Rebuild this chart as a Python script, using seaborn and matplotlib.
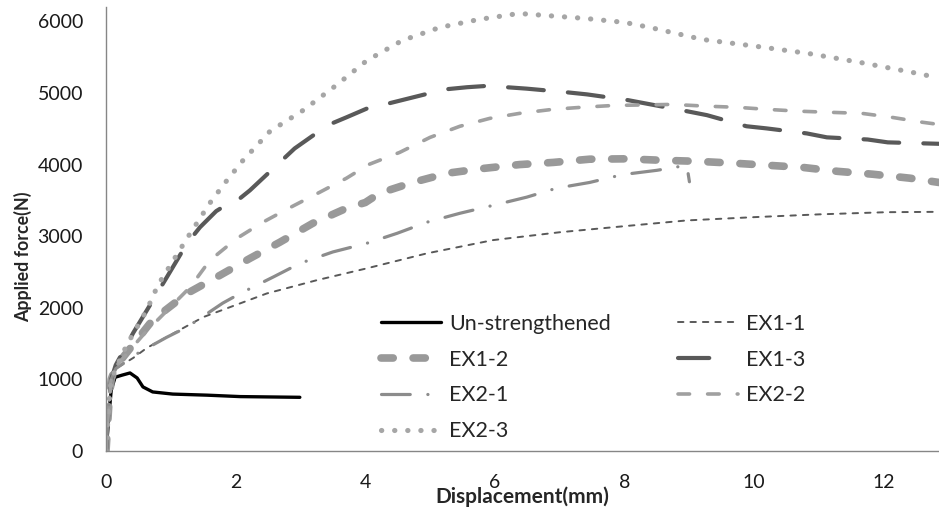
import matplotlib
matplotlib.use("Agg")
import matplotlib.pyplot as plt
import seaborn as sns
import pandas as pd

# Load-displacement curves (displacement in mm, force in N)
unstr_x = [0.0, 0.04, 0.08, 0.14, 0.25, 0.37, 0.48, 0.57, 0.72, 1.03, 1.56, 2.07, 2.99]
unstr_y = [0, 450, 850, 1030, 1060, 1090, 1020, 895, 825, 795, 780, 760, 750]

ex11_x = [0.0, 0.04, 0.08, 0.15, 0.42, 0.63, 1.5, 2.48, 3.25, 4.02, 4.95, 5.97, 7.0, 8.0, 8.96, 9.98, 11.01, 12.04, 12.85]
ex11_y = [0, 600, 1000, 1150, 1300, 1440, 1870, 2200, 2385, 2550, 2760, 2945, 3055, 3140, 3220, 3265, 3305, 3335, 3340]

ex12_x = [0.0, 0.04, 0.08, 0.15, 0.72, 1.25, 1.76, 2.22, 2.68, 3.19, 3.71, 4.0, 4.22, 4.73, 5.27, 5.81, 6.38, 6.9, 7.46, 8.0, 8.57, 9.13, 9.67, 10.21, 10.75, 11.29, 11.83, 12.4, 12.85]
ex12_y = [0, 600, 1000, 1180, 1830, 2200, 2455, 2690, 2915, 3180, 3390, 3470, 3600, 3750, 3880, 3945, 4000, 4030, 4075, 4080, 4060, 4045, 4020, 3990, 3960, 3905, 3865, 3810, 3750]

ex13_x = [0.0, 0.04, 0.08, 0.15, 0.42, 0.94, 1.25, 1.45, 1.7, 1.87, 1.96, 2.22, 2.68, 2.91, 3.42, 3.71, 4.07, 4.3, 4.61, 5.23, 5.57, 5.9, 6.18, 6.49, 7.1, 7.42, 8.05, 8.96, 9.27, 9.88, 10.19, 10.81, 11.12, 11.75, 12.06, 12.85]
ex13_y = [0, 600, 1000, 1200, 1650, 2430, 2900, 3125, 3350, 3445, 3450, 3640, 4030, 4225, 4550, 4660, 4800, 4840, 4910, 5050, 5080, 5100, 5080, 5060, 5010, 4980, 4900, 4745, 4690, 4535, 4505, 4435, 4380, 4350, 4310, 4290]

ex21_x = [0.0, 0.04, 0.08, 0.15, 0.5, 0.94, 1.25, 1.8, 2.07, 2.58, 2.99, 3.5, 4.02, 4.49, 4.95, 5.46, 5.97, 6.49, 6.95, 7.46, 7.97, 8.5, 8.96, 9.0]
ex21_y = [0, 600, 1000, 1150, 1370, 1590, 1730, 2065, 2200, 2430, 2620, 2780, 2900, 3040, 3195, 3320, 3430, 3545, 3670, 3750, 3860, 3920, 3990, 3760]

ex22_x = [0.0, 0.04, 0.08, 0.15, 0.6, 1.3, 1.6, 2.02, 2.42, 2.84, 3.3, 3.71, 4.05, 4.53, 5.0, 5.46, 5.92, 6.38, 6.88, 7.34, 7.82, 8.73, 9.27, 9.73, 10.21, 10.7, 11.16, 11.66, 12.12, 12.6, 12.85]
ex22_y = [0, 600, 1000, 1180, 1650, 2290, 2660, 2970, 3195, 3400, 3615, 3810, 4000, 4170, 4380, 4535, 4645, 4715, 4770, 4800, 4825, 4840, 4815, 4800, 4770, 4745, 4730, 4715, 4660, 4590, 4560]

ex23_x = [0.0, 0.04, 0.08, 0.15, 0.32, 0.63, 0.8, 1.25, 1.6, 1.84, 2.1, 2.53, 3.04, 3.55, 4.02, 4.57, 5.15, 5.75, 6.37, 6.78, 7.4, 8.0, 8.39, 9.2, 10.04, 10.83, 11.63, 12.44, 12.85]
ex23_y = [0, 600, 1000, 1150, 1480, 1970, 2315, 2970, 3460, 3750, 4045, 4465, 4757, 5106, 5450, 5733, 5915, 6026, 6110, 6082, 6040, 5985, 5915, 5747, 5650, 5552, 5427, 5287, 5210]

x_ticks = [0, 2, 4, 6, 8, 10, 12]
y_ticks = [0, 1000, 2000, 3000, 4000, 5000, 6000]

series = [
    ("Un-strengthened", unstr_x, unstr_y, dict(color="black", lw=2.4, linestyle="-")),
    ("EX1-1", ex11_x, ex11_y, dict(color="#595959", lw=1.4, linestyle=(0, (2.8, 3.6)))),
    ("EX1-2", ex12_x, ex12_y, dict(color="#999999", lw=5.5, linestyle=(0, (1.6, 2.6)))),
    ("EX1-3", ex13_x, ex13_y, dict(color="#595959", lw=3.0, linestyle=(0, (8.6, 5.8)))),
    ("EX2-1", ex21_x, ex21_y, dict(color="#8c8c8c", lw=2.3, linestyle=(0, (9.0, 5.5, 0.05, 5.5)))),
    ("EX2-2", ex22_x, ex22_y, dict(color="#a0a0a0", lw=2.6, linestyle=(0, (3.2, 5.0)))),
    ("EX2-3", ex23_x, ex23_y, dict(color="#a6a6a6", lw=3.7, linestyle=(0, (0.05, 2.5)))),
]

sns.set_style("white")
plt.rcParams["font.family"] = ["Lato", "DejaVu Sans"]

fig = plt.figure(figsize=(9.39, 5.12), dpi=100)
ax = fig.add_axes([0.1129, 0.1191, 0.8871, 0.8672])

handles = {}
for name, xs, ys, st in series:
    df = pd.DataFrame({"Displacement": xs, "Force": ys})
    sns.lineplot(data=df, x="Displacement", y="Force", ax=ax, sort=False,
                 estimator=None, color=st["color"], lw=st["lw"],
                 linestyle=st["linestyle"], dash_capstyle="round",
                 solid_capstyle="round", label=name)
    handles[name] = ax.get_lines()[-1]

ax.set_xlim(0, 12.85)
ax.set_ylim(0, 6200)
ax.set_xticks(x_ticks)
ax.set_yticks(y_ticks)
ax.set_xticklabels([str(v) for v in x_ticks])
ax.set_yticklabels([str(v) for v in y_ticks])

for side in ("top", "right"):
    ax.spines[side].set_visible(False)
for side in ("left", "bottom"):
    ax.spines[side].set_color("#868686")
    ax.spines[side].set_linewidth(1.0)
ax.tick_params(axis="both", which="major", direction="out", width=1.0,
               color="#868686", labelsize=14, labelcolor="#1a1a1a")
ax.tick_params(axis="x", length=5.5, pad=11)
ax.tick_params(axis="y", length=5.5, pad=11)

ax.set_xlabel("Displacement(mm)", fontsize=15, fontweight="bold", labelpad=-3)
ax.set_ylabel("Applied force(N)", fontsize=12.8, fontweight="bold")
ax.yaxis.set_label_coords(-0.089, 0.437)

# legend entries laid out row by row in two columns
order = ["Un-strengthened", "EX1-2", "EX2-1", "EX2-3", "EX1-1", "EX1-3", "EX2-2"]
leg = ax.legend([handles[n] for n in order], order, ncol=2, frameon=False,
                fontsize=15.5, loc="upper left", bbox_to_anchor=(0.317, 0.333),
                handlelength=2.8, handletextpad=0.37, columnspacing=3.1,
                labelspacing=0.73, borderpad=0)
# the legend sample for EX1-3 shows a single long dash
for line, text in zip(leg.get_lines(), leg.get_texts()):
    if text.get_text() == "EX1-3":
        line.set_linestyle((0, (7.5, 20)))

fig.savefig("out.png", dpi=100)
